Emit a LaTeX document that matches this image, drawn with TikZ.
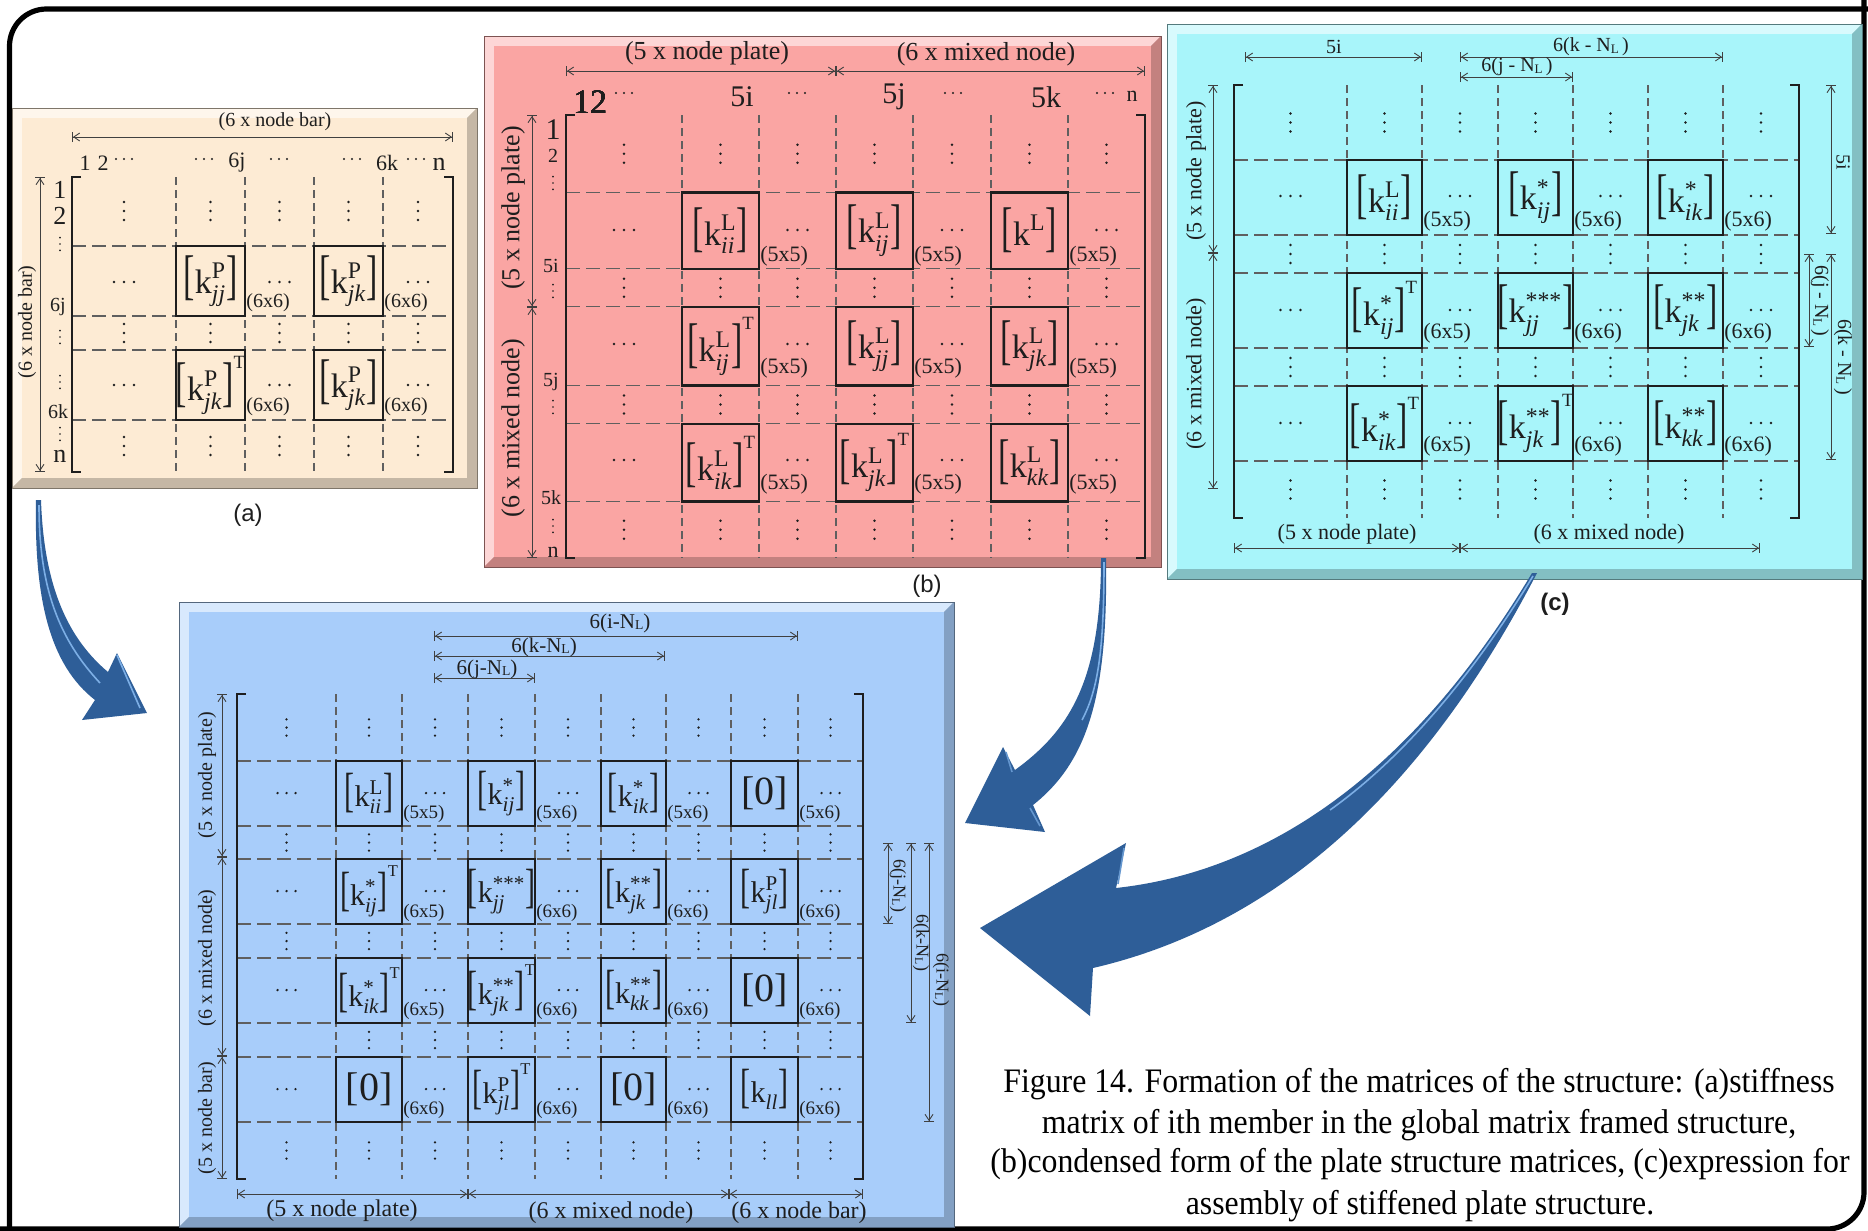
\documentclass[tikz,border=0pt]{standalone}
\usepackage{fontspec}
\usepackage{amsmath}
\usepackage{graphicx}
\setmainfont{Liberation Serif}
\newfontfamily\sansf{Liberation Sans}
\usetikzlibrary{arrows.meta}

\definecolor{pa}{RGB}{253,235,212}
\definecolor{pb}{RGB}{250,165,163}
\definecolor{pc}{RGB}{168,245,250}
\definecolor{pd}{RGB}{168,205,250}
\definecolor{arr}{RGB}{46,94,152}
\definecolor{arrl}{RGB}{125,175,230}
\definecolor{ink}{RGB}{30,30,30}
\definecolor{gridc}{RGB}{95,95,95}

\newcommand\fsz[1]{\fontsize{#1}{#1}\selectfont}
\newcommand\LB{\scalebox{1}[1.6]{[}}
\newcommand\RB{\scalebox{1}[1.6]{]}}
\newcommand\KK[3]{\LB$\text{k}^{\text{#1}}_{\textit{#2}}$\RB#3}
\newcommand\ZZ{{\fsz{20}[0]}}
\newcommand\TT{\raisebox{0.95em}{\scalebox{0.55}{T}}}
\newcommand\NL{N\raisebox{-0.2ex}{\scalebox{0.65}{L}}}

\newcommand\bevel[5]{%
 \fill[#5!72!black] (#1,#2) rectangle (#3,#4);
 \fill[#5!45!white] (#1,#2) -- (#3,#2) -- (#3-10,#2+10) -- (#1+10,#2+10) -- (#1+10,#4-10) -- (#1,#4) -- cycle;
 \fill[#5!78!black] (#3,#2) -- (#3,#4) -- (#1,#4) -- (#1+10,#4-10) -- (#3-10,#4-10) -- (#3-10,#2+10) -- cycle;
 \fill[#5] (#1+10,#2+10) rectangle (#3-10,#4-10);
 \draw[#5!50!black, line width=0.5pt] (#1,#2) rectangle (#3,#4);}
\newcommand\mbrk[4]{%
 \draw[brk] (#1+9,#3) -- (#1,#3) -- (#1,#4) -- (#1+9,#4);
 \draw[brk] (#2-9,#3) -- (#2,#3) -- (#2,#4) -- (#2-9,#4);}
\newcommand\kbox[6]{%
 \draw[bx] (#1,#2) rectangle (#3,#4);
 \node[lbl,kf] (#5) at ({(#1+#3)/2},{(#2+#4)/2}) {#6};}
\newcommand\sz[4]{\node[lbl,sf,anchor=west] (#1) at (#2,#3) {(#4)};}

\tikzset{
 glv/.style={draw=gridc, line width=0.55pt, dash pattern=on 4pt off 2.5pt},
 glh/.style={draw=gridc, line width=0.55pt, dash pattern=on 7pt off 3pt},
 bx/.style={draw=ink, line width=1.1pt},
 brk/.style={draw=ink, line width=1.1pt},
 dimln/.style={draw=ink!85, line width=0.45pt, {Bar[width=5pt,line width=0.45pt]Straight Barb[length=3pt,width=4pt,line width=0.45pt]}-{Straight Barb[length=3pt,width=4pt,line width=0.45pt]Bar[width=5pt,line width=0.45pt]}},
 lbl/.style={inner sep=0pt, text=ink},
 kf/.style={font=\fsz{17}},
 sf/.style={font=\fsz{10}},
 vd/.pic={\fill[ink] (0,-9) circle[radius=1.4] (0,0) circle[radius=1.4] (0,9) circle[radius=1.4];},
 hd/.pic={\fill[ink] (-10,0) circle[radius=1.4] (0,0) circle[radius=1.4] (10,0) circle[radius=1.4];},
}

\begin{document}
\begin{tikzpicture}[x=0.5pt,y=-0.5pt]
\useasboundingbox (0,0) rectangle (1868,1231);
\fill[white] (0,0) rectangle (1868,1231);

% outer frame
\draw[line width=2.6pt, rounded corners=18.5pt] (9.5,1250) -- (9.5,9) -- (1890,9);
\draw[line width=2.6pt, rounded corners=18.5pt] (1864,-20) -- (1864,1229) -- (-20,1229);

% ================= panel (a)
\bevel{12}{108}{477}{488}{pa}
\draw[dimln] (72,137) -- (453,137);
\node[lbl,font=\fsz{10}] (atop) at (275,122) {(6 x node bar)};
\draw[dimln] (40,177) -- (40,472);
\node[lbl,font=\fsz{10},rotate=90] (aleft) at (27,322) {(6 x node bar)};
\foreach \x in {176,245,314,383} \draw[glv] (\x,177) -- (\x,472);
\foreach \y in {246,316,350,420} \draw[glh] (72,\y) -- (453,\y);
\mbrk{72}{453}{177}{472}
\tikzset{kf/.style={font=\fsz{17}}, sf/.style={font=\fsz{10}}}
\kbox{176}{246}{245}{316}{ak1}{\KK{P}{jj}{}}
\kbox{314}{246}{383}{316}{ak2}{\KK{P}{jk}{}}
\kbox{176}{350}{245}{420}{ak3}{\KK{P}{jk}{\TT}}
\kbox{314}{350}{383}{420}{ak4}{\KK{P}{jk}{}}
\foreach \y in {211,333,446} \foreach \x in {124,210.5,279.5,348.5,418} \pic at (\x,\y) {vd};
\foreach \y in {282,385} \foreach \x in {124,279.5,418} \pic at (\x,\y) {hd};
\sz{as1}{246}{303}{6x6}
\sz{as2}{384}{303}{6x6}
\sz{as3}{246}{407}{6x6}
\sz{as4}{384}{407}{6x6}
\node[lbl,font=\fsz{11}] (ac1) at (85,163) {1};
\node[lbl,font=\fsz{11}] (ac2) at (103,163) {2};
\pic[scale=0.8] at (124,159) {hd};
\pic[scale=0.8] at (204,159) {hd};
\node[lbl,font=\fsz{11}] (ac3) at (237,163) {6j};
\pic[scale=0.8] at (279,159) {hd};
\pic[scale=0.8] at (352,159) {hd};
\node[lbl,font=\fsz{11}] (ac4) at (387,163) {6k};
\pic[scale=0.8] at (416,159) {hd};
\node[lbl,font=\fsz{13}] (ac5) at (439,164) {n};
\node[lbl,font=\fsz{13}] (ar1) at (60,190) {1};
\node[lbl,font=\fsz{13}] (ar2) at (60,216) {2};
\pic[scale=0.7] at (60,244) {vd};
\node[lbl,font=\fsz{10}] (ar3) at (58,307) {6j};
\pic[scale=0.7] at (60,337) {vd};
\pic[scale=0.7] at (60,382) {vd};
\node[lbl,font=\fsz{10}] (ar4) at (58,412) {6k};
\pic[scale=0.7] at (60,434) {vd};
\node[lbl,font=\fsz{13}] (ar5) at (60,456) {n};
\node[lbl,font=\sansf\fsz{12}] (alab) at (248,515) {(a)};

% ================= panel (b)
\bevel{484}{36}{1161}{567}{pb}
\draw[dimln] (566,71) -- (836,71);
\draw[dimln] (836,71) -- (1145,71);
\node[lbl,font=\fsz{13}] (btop1) at (707,53) {(5 x node plate)};
\node[lbl,font=\fsz{13}] (btop2) at (986,54) {(6 x mixed node)};
\draw[dimln] (532,115) -- (532,307);
\draw[dimln] (532,307) -- (532,558);
\node[lbl,font=\fsz{13},rotate=90] (bl1) at (513,208) {(5 x node plate)};
\node[lbl,font=\fsz{13},rotate=90] (bl2) at (513,428) {(6 x mixed node)};
\foreach \x in {682,759,836,913,991,1068} \draw[glv] (\x,115) -- (\x,558);
\foreach \y in {192.5,268.6,306.8,385.4,423.6,501.4} \draw[glh] (566,\y) -- (1145,\y);
\mbrk{566}{1145}{115}{558}
\tikzset{kf/.style={font=\fsz{17}}, sf/.style={font=\fsz{11}}}
\kbox{682}{192.5}{759}{268.6}{bk1}{\KK{L}{ii}{}}
\kbox{836}{192.5}{913}{268.6}{bk2}{\KK{L}{ij}{}}
\kbox{991}{192.5}{1068}{268.6}{bk3}{\KK{L}{}{}}
\kbox{682}{306.8}{759}{385.4}{bk4}{\KK{L}{ij}{\TT}}
\kbox{836}{306.8}{913}{385.4}{bk5}{\KK{L}{jj}{}}
\kbox{991}{306.8}{1068}{385.4}{bk6}{\KK{L}{jk}{}}
\kbox{682}{423.6}{759}{501.4}{bk7}{\KK{L}{ik}{\TT}}
\kbox{836}{423.6}{913}{501.4}{bk8}{\KK{L}{jk}{\TT}}
\kbox{991}{423.6}{1068}{501.4}{bk9}{\KK{L}{kk}{}}
\foreach \y in {153.8,287.7,404.5,529.7} \foreach \x in {624,720.5,797.5,874.5,952,1029.5,1106.5} \pic at (\x,\y) {vd};
\foreach \y in {230,344,460} \foreach \x in {624,797.5,952,1106.5} \pic at (\x,\y) {hd};
\foreach \y [count=\r] in {256,368,484} \foreach \x [count=\c] in {760,914,1069} \sz{bs\r\c}{\x}{\y}{5x5}
\node[lbl,font=\fsz{17}] (bc1) at (590,102) {12};
\pic[scale=0.8] at (624,93) {hd};
\node[lbl,font=\fsz{15}] (bc2) at (742,97) {5i};
\pic[scale=0.8] at (797,93) {hd};
\node[lbl,font=\fsz{15}] (bc3) at (894,97) {5j};
\pic[scale=0.8] at (953,93) {hd};
\node[lbl,font=\fsz{15}] (bc4) at (1046,97) {5k};
\pic[scale=0.8] at (1105,93) {hd};
\node[lbl,font=\fsz{11}] (bc5) at (1132,96) {n};
\node[lbl,font=\fsz{15}] (br1) at (553,130) {1};
\node[lbl,font=\fsz{10}] (br2) at (553,156) {2};
\pic[scale=0.7] at (553,183) {vd};
\node[lbl,font=\fsz{10}] (br3) at (551,266) {5i};
\pic[scale=0.7] at (553,291) {vd};
\node[lbl,font=\fsz{10}] (br4) at (551,382) {5j};
\pic[scale=0.7] at (553,407) {vd};
\node[lbl,font=\fsz{10}] (br5) at (551,498) {5k};
\pic[scale=0.7] at (553,526) {vd};
\node[lbl,font=\fsz{11}] (br6) at (553,552) {n};
\node[lbl,font=\sansf\fsz{12}] (blab) at (927,586) {(b)};

% ================= panel (c)
\bevel{1167}{24}{1862}{579}{pc}
\draw[dimln] (1245,57) -- (1422,57);
\node[lbl,font=\fsz{10}] (ct1) at (1334,47) {5i};
\draw[dimln] (1460,57) -- (1723,57);
\node[lbl,font=\fsz{10}] (ct2) at (1591,47) {6(k - \NL\,)};
\draw[dimln] (1460,77) -- (1573,77);
\node[lbl,font=\fsz{10}] (ct3) at (1517,67) {6(j - \NL\,)};
\draw[dimln] (1831,85) -- (1831,234);
\node[lbl,font=\fsz{10},rotate=-90] (cr1) at (1843,162) {5i};
\draw[dimln] (1809,254) -- (1809,347);
\node[lbl,font=\fsz{10},rotate=-90] (cr2) at (1820,301) {6(j - \NL\,)};
\draw[dimln] (1831,254) -- (1831,460);
\node[lbl,font=\fsz{10},rotate=-90] (cr3) at (1843,357) {6(k - \NL\,)};
\draw[dimln] (1213,85) -- (1213,253);
\draw[dimln] (1213,253) -- (1213,489);
\node[lbl,font=\fsz{11},rotate=90] (cl1) at (1196,171) {(5 x node plate)};
\node[lbl,font=\fsz{11},rotate=90] (cl2) at (1196,374) {(6 x mixed node)};
\draw[dimln] (1234,548) -- (1460,548);
\draw[dimln] (1460,548) -- (1760,548);
\node[lbl,font=\fsz{11}] (cb1) at (1347,534) {(5 x node plate)};
\node[lbl,font=\fsz{11}] (cb2) at (1609,534) {(6 x mixed node)};
\foreach \x in {1347,1422,1498,1573,1648,1723} \draw[glv] (\x,85) -- (\x,518);
\foreach \y in {160,235,273,348,386,461} \draw[glh] (1234,\y) -- (1799,\y);
\mbrk{1234}{1799}{85}{518}
\tikzset{kf/.style={font=\fsz{17}}, sf/.style={font=\fsz{11}}}
\kbox{1347}{160}{1422}{235}{ck1}{\KK{L}{ii}{}}
\kbox{1498}{160}{1573}{235}{ck2}{\KK{*}{ij}{}}
\kbox{1648}{160}{1723}{235}{ck3}{\KK{*}{ik}{}}
\kbox{1347}{273}{1422}{348}{ck4}{\KK{*}{ij}{\TT}}
\kbox{1498}{273}{1573}{348}{ck5}{\KK{***}{jj}{}}
\kbox{1648}{273}{1723}{348}{ck6}{\KK{**}{jk}{}}
\kbox{1347}{386}{1422}{461}{ck7}{\KK{*}{ik}{\TT}}
\kbox{1498}{386}{1573}{461}{ck8}{\KK{**}{jk}{\TT}}
\kbox{1648}{386}{1723}{461}{ck9}{\KK{**}{kk}{}}
\foreach \y in {122.5,254,367,489.5} \foreach \x in {1290.5,1384.5,1460,1535.5,1610.5,1685.5,1761} \pic at (\x,\y) {vd};
\foreach \y in {196,310,423} \foreach \x in {1290.5,1460,1610.5,1761} \pic at (\x,\y) {hd};
\sz{cs1}{1423}{221}{5x5}
\sz{cs2}{1574}{221}{5x6}
\sz{cs3}{1724}{221}{5x6}
\sz{cs4}{1423}{333}{6x5}
\sz{cs5}{1574}{333}{6x6}
\sz{cs6}{1724}{333}{6x6}
\sz{cs7}{1423}{446}{6x5}
\sz{cs8}{1574}{446}{6x6}
\sz{cs9}{1724}{446}{6x6}
\node[lbl,font=\sansf\bfseries\fsz{12}] (clab) at (1555,604) {(c)};

% ================= panel (d)
\bevel{179}{602}{954}{1227}{pd}
\draw[dimln] (434,636) -- (798,636);
\node[lbl,font=\fsz{10.5}] (dt1) at (620,623) {6(i-\NL)};
\draw[dimln] (434,656) -- (665,656);
\node[lbl,font=\fsz{10.5}] (dt2) at (544,647) {6(k-\NL)};
\draw[dimln] (434,678) -- (535,678);
\node[lbl,font=\fsz{10.5}] (dt3) at (487,669) {6(j-\NL)};
\draw[dimln] (222,694) -- (222,857);
\draw[dimln] (222,857) -- (222,1056);
\draw[dimln] (222,1056) -- (222,1179);
\node[lbl,font=\fsz{10},rotate=90] (dl1) at (207,775) {(5 x node plate)};
\node[lbl,font=\fsz{10},rotate=90] (dl2) at (207,958) {(6 x mixed node)};
\node[lbl,font=\fsz{10},rotate=90] (dl3) at (207,1118) {(5 x node bar)};
\draw[dimln] (237,1194) -- (468,1194);
\draw[dimln] (468,1194) -- (729,1194);
\draw[dimln] (729,1194) -- (863,1194);
\node[lbl,font=\fsz{12}] (db1) at (342,1211) {(5 x node plate)};
\node[lbl,font=\fsz{12}] (db2) at (611,1213) {(6 x mixed node)};
\node[lbl,font=\fsz{12}] (db3) at (799,1213) {(6 x node bar)};
\draw[dimln] (888,843) -- (888,924);
\node[lbl,font=\fsz{9},rotate=-90] (dr1) at (898,886) {6(j-\NL)};
\draw[dimln] (911,843) -- (911,1023);
\node[lbl,font=\fsz{9},rotate=-90] (dr2) at (921,943) {6(k-\NL)};
\draw[dimln] (929,843) -- (929,1122);
\node[lbl,font=\fsz{9},rotate=-90] (dr3) at (941,980) {6(i-\NL)};
\foreach \x in {336,402,468,535,601,666,731,798} \draw[glv] (\x,694) -- (\x,1179);
\foreach \y in {761,826,859,924,958,1023,1057,1122} \draw[glh] (237,\y) -- (863,\y);
\mbrk{237}{863}{694}{1179}
\tikzset{kf/.style={font=\fsz{15}}, sf/.style={font=\fsz{9.5}}}
\kbox{336}{761}{402}{826}{dk1}{\KK{L}{ii}{}}
\kbox{468}{761}{535}{826}{dk2}{\KK{*}{ij}{}}
\kbox{601}{761}{666}{826}{dk3}{\KK{*}{ik}{}}
\kbox{731}{761}{798}{826}{dk4}{\ZZ}
\kbox{336}{859}{402}{924}{dk5}{\KK{*}{ij}{\TT}}
\kbox{468}{859}{535}{924}{dk6}{\KK{***}{jj}{}}
\kbox{601}{859}{666}{924}{dk7}{\KK{**}{jk}{}}
\kbox{731}{859}{798}{924}{dk8}{\KK{P}{jl}{}}
\kbox{336}{958}{402}{1023}{dk9}{\KK{*}{ik}{\TT}}
\kbox{468}{958}{535}{1023}{dk10}{\KK{**}{jk}{\TT}}
\kbox{601}{958}{666}{1023}{dk11}{\KK{**}{kk}{}}
\kbox{731}{958}{798}{1023}{dk12}{\ZZ}
\kbox{336}{1057}{402}{1122}{dk13}{\ZZ}
\kbox{468}{1057}{535}{1122}{dk14}{\KK{P}{jl}{\TT}}
\kbox{601}{1057}{666}{1122}{dk15}{\ZZ}
\kbox{731}{1057}{798}{1122}{dk16}{\KK{}{ll}{}}
\foreach \y in {727.5,842.5,941,1150.5} \foreach \x in {286.5,369,435,501.5,568,633.5,698.5,764.5,830.5} \pic[scale=0.9] at (\x,\y) {vd};
\foreach \x in {369,435,501.5,568,633.5,698.5,764.5,830.5} \pic[scale=0.9] at (\x,1040) {vd};
\foreach \y in {793,891,990,1089} \foreach \x in {286.5,435,568,698.5,830.5} \pic[scale=0.9] at (\x,\y) {hd};
\sz{ds1}{403}{814}{5x5}
\sz{ds2}{536}{814}{5x6}
\sz{ds3}{667}{814}{5x6}
\sz{ds4}{799}{814}{5x6}
\sz{ds5}{403}{913}{6x5}
\sz{ds6}{536}{913}{6x6}
\sz{ds7}{667}{913}{6x6}
\sz{ds8}{799}{913}{6x6}
\sz{ds9}{403}{1011}{6x5}
\sz{ds10}{536}{1011}{6x6}
\sz{ds11}{667}{1011}{6x6}
\sz{ds12}{799}{1011}{6x6}
\sz{ds13}{403}{1110}{6x6}
\sz{ds14}{536}{1110}{6x6}
\sz{ds15}{667}{1110}{6x6}
\sz{ds16}{799}{1110}{6x6}

% ================= big arrows
\fill[arr] (36,500) .. controls (34,600) and (50,665) .. (95,700) -- (82,720) -- (147,713) -- (117,653) -- (108,672) .. controls (70,640) and (44,590) .. (41,500) -- cycle;
\draw[arrl, line width=0.8pt] (39,505) .. controls (39,590) and (60,640) .. (100,683);
\draw[arrl, line width=0.8pt] (117,655) -- (140,708);
\fill[arr] (1101,558) .. controls (1101,680) and (1070,730) .. (1015,770) -- (1003,747) -- (965,823) -- (1045,832) -- (1033,805) .. controls (1090,760) and (1108,690) .. (1106,558) -- cycle;
\draw[arrl, line width=0.8pt] (1104,562) .. controls (1104,650) and (1098,690) .. (1082,720);
\draw[arrl!70!arr, line width=0.8pt] (1006,752) -- (1012,772);
\draw[arrl!70!arr, line width=0.8pt] (1040,826) -- (1030,808);
\fill[arr] (1532,573) .. controls (1420,760) and (1280,870) .. (1116,888) -- (1126,843) -- (980,928) -- (1090,1016) -- (1093,968) .. controls (1300,920) and (1440,760) .. (1537,573) -- cycle;
\draw[arrl, line width=0.8pt] (1533,576) .. controls (1470,680) and (1400,760) .. (1330,810);
\draw[arrl!70!arr, line width=0.8pt] (1124,848) -- (1118,884);

% ================= caption
\node[lbl,text=black] (cap1) at (1419,1084) {\scalebox{1}[1.08]{\fsz{15.9}Figure 14. Formation of the matrices of the structure: (a)stiffness}};
\node[lbl,text=black] (cap2) at (1419,1125) {\scalebox{1}[1.08]{\fsz{15.9}matrix of ith member in the global matrix framed structure,}};
\node[lbl,text=black] (cap3) at (1420,1164) {\scalebox{1}[1.08]{\fsz{15.9}(b)condensed form of the plate structure matrices, (c)expression for}};
\node[lbl,text=black] (cap4) at (1420,1206) {\scalebox{1}[1.08]{\fsz{15.9}assembly of stiffened plate structure.}};
\end{tikzpicture}
\end{document}
